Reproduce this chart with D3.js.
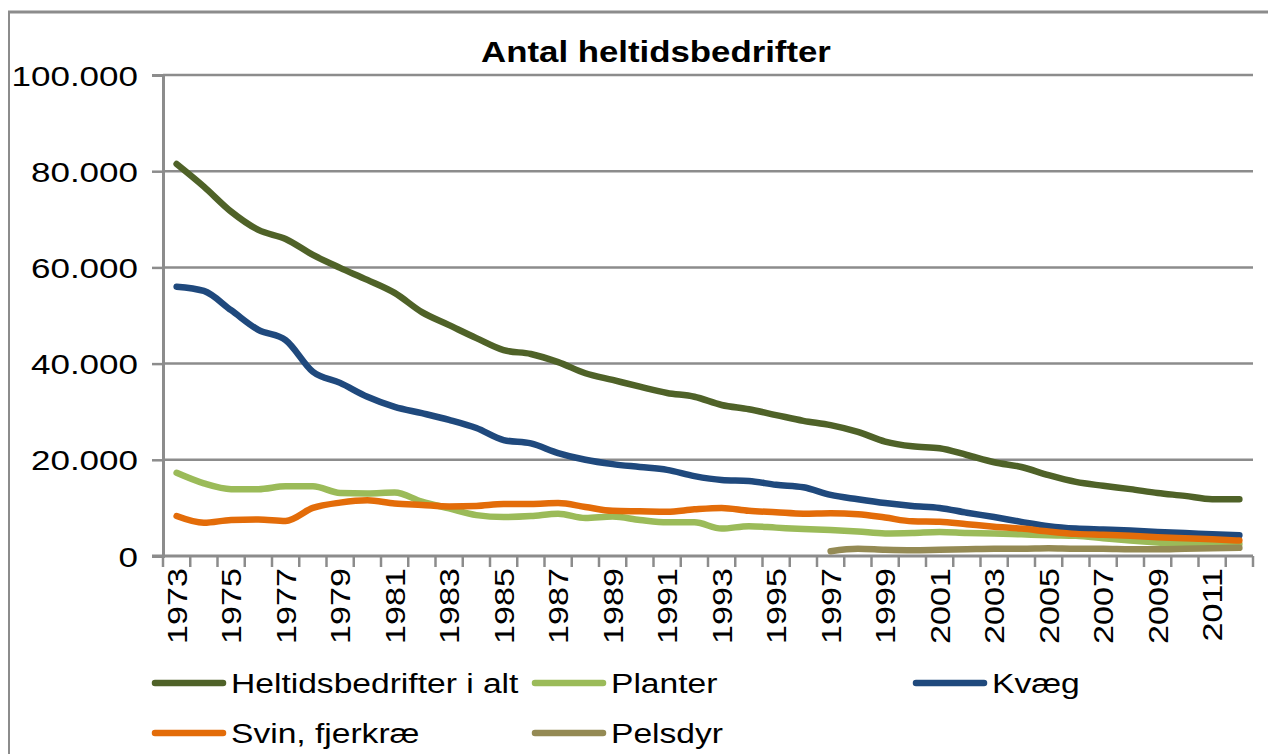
<!DOCTYPE html>
<html><head><meta charset="utf-8">
<script src="https://cdn.jsdelivr.net/npm/d3@7"></script>
<style>body{margin:0;background:#fff}svg{display:block}</style>
</head><body>
<svg id="c" width="1268" height="754"></svg>
<script>
const years = d3.range(1973, 2013).map(String);
const yTicks = [0, 20000, 40000, 60000, 80000, 100000];
const seriesNames = ["Heltidsbedrifter i alt", "Planter", "Kvæg", "Svin, fjerkræ", "Pelsdyr"];
const total = [81.5,76.8,71.6,67.8,65.9,62.6,59.9,57.4,54.7,50.7,48.0,45.3,42.8,42.0,40.3,38.0,36.6,35.2,33.9,33.1,31.4,30.5,29.3,28.1,27.2,25.8,23.8,22.8,22.4,21.0,19.5,18.5,16.8,15.4,14.6,13.9,13.1,12.5,11.8,11.8];
const planter = [17.3,15.1,13.9,13.9,14.5,14.5,13.1,13.0,13.2,11.3,9.9,8.5,8.1,8.3,8.8,7.9,8.2,7.5,7.0,7.0,5.7,6.2,5.9,5.6,5.4,5.1,4.7,4.8,5.0,4.8,4.7,4.5,4.3,4.2,3.7,3.2,2.8,2.5,2.5,2.5];
const kvaeg = [56.0,55.1,51.1,47.0,44.9,38.3,36.0,33.1,31.0,29.7,28.3,26.6,24.1,23.4,21.4,20.0,19.1,18.5,17.9,16.6,15.8,15.6,14.8,14.3,12.7,11.8,11.0,10.4,10.0,9.0,8.1,7.1,6.2,5.7,5.5,5.3,5.0,4.8,4.5,4.3];
const svin = [8.3,6.9,7.5,7.6,7.3,10.0,11.1,11.6,10.9,10.6,10.3,10.4,10.8,10.8,11.0,10.2,9.4,9.3,9.2,9.7,10.0,9.4,9.1,8.8,8.9,8.7,8.0,7.2,7.1,6.6,6.1,5.7,5.1,4.6,4.4,4.2,3.9,3.7,3.5,3.2];
const pelsdyr = [null,null,null,null,null,null,null,null,null,null,null,null,null,null,null,null,null,null,null,null,null,null,null,null,1.0,1.5,1.3,1.2,1.3,1.4,1.5,1.5,1.6,1.5,1.5,1.4,1.4,1.5,1.6,1.7];
const colors = ["#4f6228", "#9bbb59", "#1f497d", "#e36c09", "#948a54"];

const svg = d3.select("#c");
const L = 163, R = 1253, T = 75, B = 556;
const x = d3.scaleBand().domain(years).range([L, R]);
const y = d3.scaleLinear().domain([0, 100000]).range([B, T]);
const fmt = v => v === 0 ? "0" : d3.format(",")(v).replace(/,/g, ".");
const FONT = "'Liberation Sans', Arial, sans-serif";

// frame
svg.append("line").attr("x1", 8).attr("x2", 1268).attr("y1", 12).attr("y2", 12).attr("stroke", "#8c8c8c").attr("stroke-width", 3);
svg.append("line").attr("x1", 9).attr("x2", 9).attr("y1", 12).attr("y2", 754).attr("stroke", "#8c8c8c").attr("stroke-width", 2);

// title
svg.append("text").attr("transform", "translate(656,62) scale(1.2,1)")
  .attr("text-anchor", "middle").attr("font-family", FONT).attr("font-weight", "bold")
  .attr("font-size", 29).attr("fill", "#000").text("Antal heltidsbedrifter");

// gridlines
svg.append("g").selectAll("line").data(yTicks.filter(d => d > 0)).join("line")
  .attr("x1", L).attr("x2", R).attr("y1", d => y(d)).attr("y2", d => y(d))
  .attr("stroke", "#8c8c8c").attr("stroke-width", 2.5);

// y axis
const yAxis = svg.append("g").attr("transform", `translate(${L},0)`)
  .call(d3.axisLeft(y).tickValues(yTicks).tickFormat(fmt).tickSize(11).tickPadding(0));
yAxis.select(".domain").attr("stroke", "#8c8c8c").attr("stroke-width", 3);
yAxis.selectAll(".tick line").attr("stroke", "#8c8c8c").attr("stroke-width", 2.5);
yAxis.selectAll(".tick text").each(function(d) {
  d3.select(this).attr("x", null).attr("dy", null)
    .attr("transform", `translate(-25,10) scale(1.25,1)`)
    .attr("font-family", FONT).attr("font-size", 28).attr("fill", "#000");
});

// x axis: ticks at category boundaries
const bounds = years.map(d => x(d)).concat([R]);
svg.append("g").selectAll("line").data(bounds).join("line")
  .attr("x1", d => d).attr("x2", d => d).attr("y1", B).attr("y2", B + 11)
  .attr("stroke", "#8c8c8c").attr("stroke-width", 2.5);
svg.append("line").attr("x1", L - 11).attr("x2", R).attr("y1", B).attr("y2", B)
  .attr("stroke", "#8c8c8c").attr("stroke-width", 3);
svg.append("g").selectAll("text").data(years.filter((d, i) => i % 2 === 0)).join("text")
  .attr("transform", d => `translate(${x(d) + x.bandwidth() / 2 + 10},568) rotate(-90) scale(1.22,1)`)
  .attr("text-anchor", "end").attr("font-family", FONT).attr("font-size", 28).attr("fill", "#000")
  .text(d => d);

// lines
const allSeries = [total, planter, kvaeg, svin, pelsdyr];
const line = d3.line()
  .defined(d => d != null)
  .x((d, i) => x(years[i]) + x.bandwidth() / 2)
  .y(d => y(d * 1000))
  .curve(d3.curveMonotoneX);
svg.append("g").selectAll("path").data(allSeries).join("path")
  .attr("d", d => line(d)).attr("fill", "none")
  .attr("stroke", (d, i) => colors[i]).attr("stroke-width", 6.5)
  .attr("stroke-linejoin", "round").attr("stroke-linecap", "round");

// legend
const legendPos = [
  {x: 155, y: 683}, {x: 535, y: 683}, {x: 916, y: 683},
  {x: 155, y: 733}, {x: 535, y: 733}
];
const lg = svg.append("g").selectAll("g").data(seriesNames).join("g")
  .attr("transform", (d, i) => `translate(${legendPos[i].x},${legendPos[i].y})`);
lg.append("line").attr("x1", 0).attr("x2", 68).attr("y1", 0).attr("y2", 0)
  .attr("stroke", (d, i) => colors[i]).attr("stroke-width", 6.5).attr("stroke-linecap", "round");
lg.append("text").attr("transform", "translate(76,10) scale(1.2,1)")
  .attr("font-family", FONT).attr("font-size", 28).attr("fill", "#000").text(d => d);
</script>
</body></html>
